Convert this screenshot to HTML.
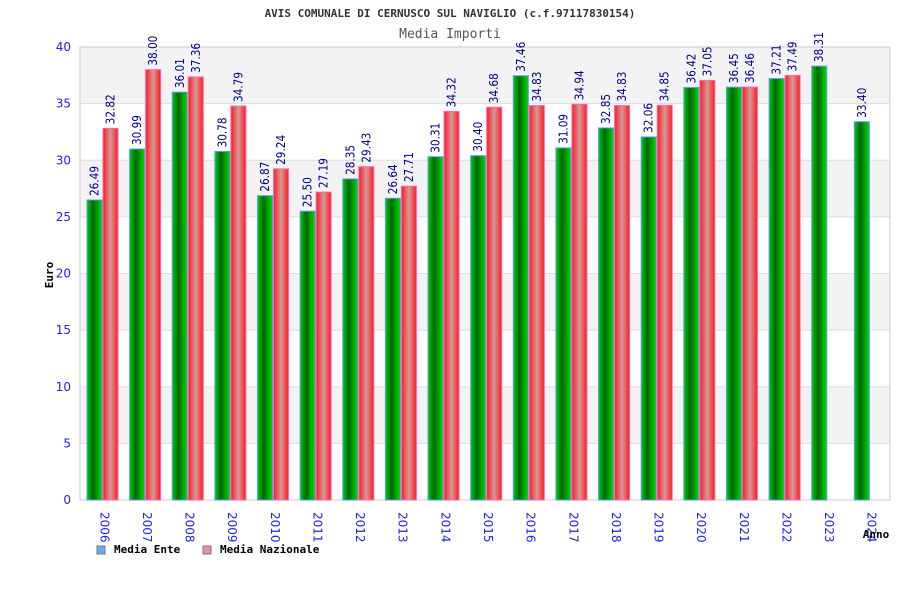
<!DOCTYPE html>
<html><head><meta charset="utf-8"><style>
body{margin:0;background:#fff;}
svg text{font-family:"DejaVu Sans Mono","Liberation Mono",monospace;}
svg text.sans{font-family:"DejaVu Sans","Liberation Sans",sans-serif;}
</style></head><body>
<svg id="chart" width="900" height="600" xmlns="http://www.w3.org/2000/svg">
<defs>
<linearGradient id="gG" x1="0" x2="1"><stop offset="0" stop-color="#00d000"/><stop offset="0.4" stop-color="#006600"/><stop offset="1" stop-color="#00dd00"/></linearGradient>
<linearGradient id="gR" x1="0" x2="1"><stop offset="0" stop-color="#ff1a1a"/><stop offset="0.5" stop-color="#d49a9a"/><stop offset="1" stop-color="#ff1a1a"/></linearGradient>
</defs>
<text x="450" y="17" text-anchor="middle" font-size="11" font-weight="bold" fill="#333">AVIS COMUNALE DI CERNUSCO SUL NAVIGLIO (c.f.97117830154)</text>
<text x="450" y="38" text-anchor="middle" font-size="13" fill="#555">Media Importi</text>
<g id="bands"></g>
<g id="bars"></g>
<text transform="translate(53,275) rotate(-90)" text-anchor="middle" font-size="11" font-weight="bold" fill="#000">Euro</text>
<text x="876" y="538" text-anchor="middle" font-size="11" font-weight="bold" fill="#000">Anno</text>
<rect x="97" y="546" width="8" height="8" fill="#66aaee" stroke="#777"/>
<text x="114" y="553" font-size="11" font-weight="bold">Media Ente</text>
<rect x="203" y="546" width="8" height="8" fill="#ee88bb" stroke="#777"/>
<text x="220" y="553" font-size="11" font-weight="bold">Media Nazionale</text>
</svg>
<script>
const categories=["2006","2007","2008","2009","2010","2011","2012","2013","2014","2015","2016","2017","2018","2019","2020","2021","2022","2023","2024"];
const ente=[26.49,30.99,36.01,30.78,26.87,25.50,28.35,26.64,30.31,30.40,37.46,31.09,32.85,32.06,36.42,36.45,37.21,38.31,33.40];
const nazionale=[32.82,38.00,37.36,34.79,29.24,27.19,29.43,27.71,34.32,34.68,34.83,34.94,34.83,34.85,37.05,36.46,37.49,null,null];
const yTicks=[0,5,10,15,20,25,30,35,40];
const NS="http://www.w3.org/2000/svg";
const L=80,R=890,T=47,B=500,YMAX=40;
const y=v=>B-(v/YMAX)*(B-T);
const cw=(R-L)/categories.length;
const x=i=>L+i*cw;
function mk(tag,attrs,parent){const e=document.createElementNS(NS,tag);for(const k in attrs)e.setAttribute(k,attrs[k]);parent.appendChild(e);return e;}
const bands=document.getElementById('bands'),bars=document.getElementById('bars');
for(let i=0;i<yTicks.length-1;i++){
  const r=mk('rect',{x:L,y:y(yTicks[i+1]),width:R-L,height:y(yTicks[i])-y(yTicks[i+1]),fill:(i%2===1)?'#f3f3f3':'#ffffff'},bands);
  
  
}
yTicks.forEach(t=>{
  const g=mk('line',{x1:L,x2:R,y1:y(t),y2:y(t),stroke:'#dddddd','stroke-width':1},bands);
  
  
  const tx=mk('text',{x:71,y:y(t)+4,'text-anchor':'end','font-size':12,fill:'#2222ee','class':'sans'},bands);
  tx.textContent=t;
  
  
});
const fr=mk('rect',{x:L,y:T,width:R-L,height:B-T,fill:'none',stroke:'#cccccc'},bands);


function bar(v,bx,w,fill,stroke,name){
  const r=mk('rect',{x:bx,y:y(v),width:w,height:B-y(v),fill:fill,stroke:stroke,'stroke-width':1},bars);
  
  
  const t=mk('text',{transform:`translate(${bx+w/2+4},${y(v)-4}) rotate(-90)`,'font-size':12,fill:'#000088','class':'sans','textLength':30,'lengthAdjust':'spacingAndGlyphs'},bars);
  t.textContent=v.toFixed(2);
  
  
}
categories.forEach((c,i)=>{
  const bx=x(i)+7;
  if(ente[i]!=null)bar(ente[i],bx,15,'url(#gG)','#5599ff','bar-ente-'+c);
  if(nazionale[i]!=null)bar(nazionale[i],bx+16,15,'url(#gR)','#ff66bb','bar-nazionale-'+c);
  const t=mk('text',{transform:`translate(${x(i)+cw/2-1},512) rotate(90)`,'font-size':12,fill:'#2222ee','class':'sans'},bars);
  t.textContent=c;
  
  
});
</script>
</body></html>
